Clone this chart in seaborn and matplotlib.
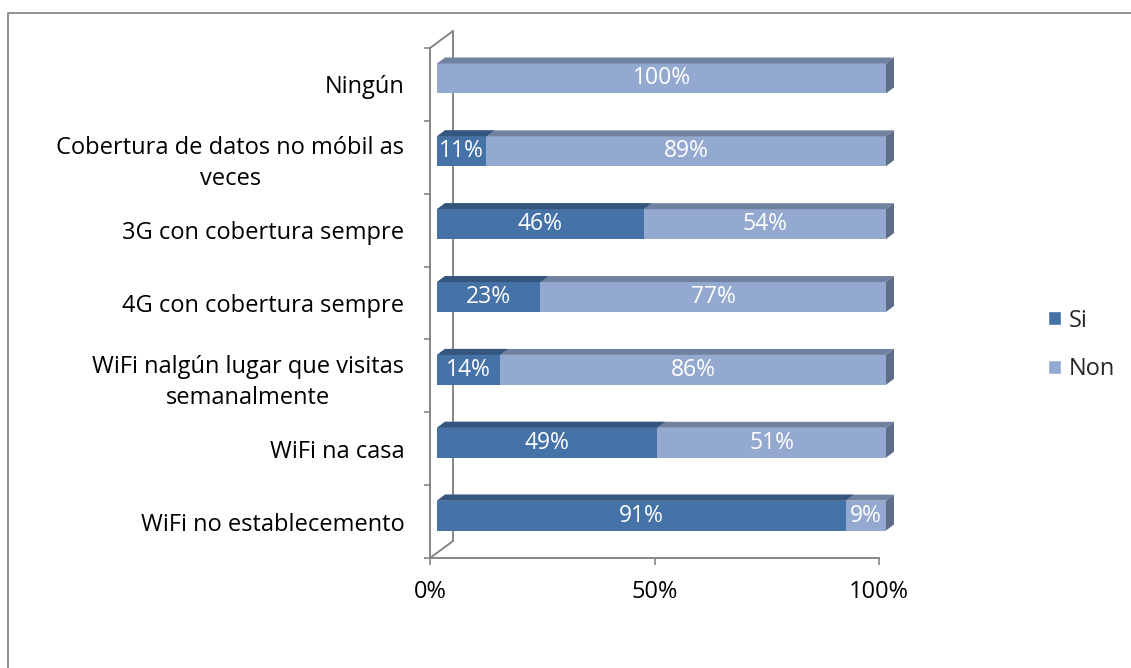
import matplotlib
matplotlib.use('Agg')
import matplotlib.pyplot as plt
import matplotlib.transforms as mtransforms
from matplotlib.patches import Polygon, Patch
from matplotlib.lines import Line2D
import seaborn as sns
import pandas as pd

# data
categories = ['Ningún',
              'Cobertura de datos no móbil as\nveces',
              '3G con cobertura sempre',
              '4G con cobertura sempre',
              'WiFi nalgún lugar que visitas\nsemanalmente',
              'WiFi na casa',
              'WiFi no establecemento']
si = [0, 11, 46, 23, 14, 49, 91]
non = [100, 89, 54, 77, 86, 51, 9]
xticks = [0, 50, 100]
xtick_labels = ['0%', '50%', '100%']

# colours (Excel-ish 3D bars)
si_col = '#4572a7'
non_col = '#94a9cf'
si_top = '#34557e'
non_top = '#7182a1'
non_side = '#5f6e88'
axis_col = '#868686'

sns.set_style('white')
plt.rcParams['font.family'] = ['Open Sans', 'DejaVu Sans']
fs = 17
fs_lab = 16.5

df = pd.DataFrame({'cat': categories, 'Si': si, 'Non': non})
df['total'] = df['Si'] + df['Non']

W, H = 1131, 668
fig = plt.figure(figsize=(W / 100, H / 100), dpi=100)
ax = fig.add_axes([430 / W, 110 / H, 449 / W, 510 / H])

sns.barplot(data=df, y='cat', x='total', color=non_col, orient='h',
            width=0.41, saturation=1, linewidth=0, ax=ax)
sns.barplot(data=df, y='cat', x='Si', color=si_col, orient='h',
            width=0.41, saturation=1, linewidth=0, ax=ax)

ax.set_xlim(0, 100)
ax.set_ylim(6.5, -0.5)
ax.set_xlabel('')
ax.set_ylabel('')

# bars sit a little inside the 3D box
front = mtransforms.offset_copy(ax.transData, fig=fig, x=7, y=6, units='dots')
dx, dy = 8, 6
ident = mtransforms.IdentityTransform()

def faces(cont, top_col, side_col=None):
    for p in cont.patches:
        p.set_transform(front)
        p.set_clip_on(False)
        p.set_zorder(2)
        w = p.get_width()
        if w <= 0:
            continue
        pts = front.transform([(p.get_x(), p.get_y()),
                               (p.get_x() + w, p.get_y() + p.get_height())])
        X0, X1 = sorted(pts[:, 0])
        Yb, Yt = sorted(pts[:, 1])
        top = Polygon([(X0, Yt), (X1, Yt), (X1 + dx, Yt + dy), (X0 + dx, Yt + dy)],
                      closed=True, facecolor=top_col, edgecolor='none',
                      transform=ident, clip_on=False, zorder=2)
        ax.add_artist(top)
        if side_col is not None:
            side = Polygon([(X1, Yb), (X1, Yt), (X1 + dx, Yt + dy), (X1 + dx, Yb + dy)],
                           closed=True, facecolor=side_col, edgecolor='none',
                           transform=ident, clip_on=False, zorder=2)
            ax.add_artist(side)

faces(ax.containers[0], non_top, non_side)
faces(ax.containers[1], si_top)

# data labels
for i, (s, n) in enumerate(zip(si, non)):
    if s > 0:
        ax.text(s / 2, i, f'{s}%', ha='center', va='center', color='white',
                fontsize=fs_lab, transform=front, clip_on=False, zorder=3)
    if n > 0:
        ax.text(s + n / 2, i, f'{n}%', ha='center', va='center', color='white',
                fontsize=fs_lab, transform=front, clip_on=False, zorder=3)

# axes styling
for side in ['top', 'right']:
    ax.spines[side].set_visible(False)
for side in ['left', 'bottom']:
    ax.spines[side].set_color(axis_col)
    ax.spines[side].set_linewidth(1.4)

ax.set_yticks(range(len(categories)))
ax.set_yticklabels(categories, multialignment='center', linespacing=1.4)
ax.set_yticks([i - 0.5 for i in range(len(categories) + 1)], minor=True)
ax.tick_params(axis='y', which='major', left=False, pad=15, labelsize=fs, colors='black')
ax.tick_params(axis='y', which='minor', left=True, length=4.3, width=1.2,
               color=axis_col, direction='out')
ax.set_xticks(xticks)
ax.set_xticklabels(xtick_labels)
ax.tick_params(axis='x', which='major', bottom=True, length=5, width=1.2, color=axis_col,
               direction='out', pad=11, labelsize=fs, labelcolor='black')

# back wall of the 3D box, behind the bars
fig.canvas.draw()
bl = ax.transAxes.transform((0, 0))
tl = ax.transAxes.transform((0, 1))
off = (23, 17)
for xs, ys in [([tl[0], tl[0] + off[0]], [tl[1], tl[1] + off[1]]),
               ([bl[0], bl[0] + off[0]], [bl[1], bl[1] + off[1]]),
               ([bl[0] + off[0], tl[0] + off[0]], [bl[1] + off[1], tl[1] + off[1]])]:
    ax.add_artist(Line2D(xs, ys, color=axis_col, lw=1.4, transform=ident,
                         clip_on=False, zorder=0.5))

# legend
handles = [Patch(facecolor=si_col, label='Si'), Patch(facecolor=non_col, label='Non')]
fig.legend(handles=handles, loc='center left', bbox_to_anchor=(1027 / W, 1 - 345 / H),
           frameon=False, fontsize=fs, handlelength=0.55, handleheight=0.55,
           handletextpad=0.3, labelspacing=1.05)

# outer chart frame (only top and left visible)
fig.add_artist(Line2D([7.5 / W, 7.5 / W, 1], [0, 1 - 12.5 / H, 1 - 12.5 / H],
                      color='#888888', lw=1.3, transform=fig.transFigure))

fig.savefig('out.png', dpi=100)
